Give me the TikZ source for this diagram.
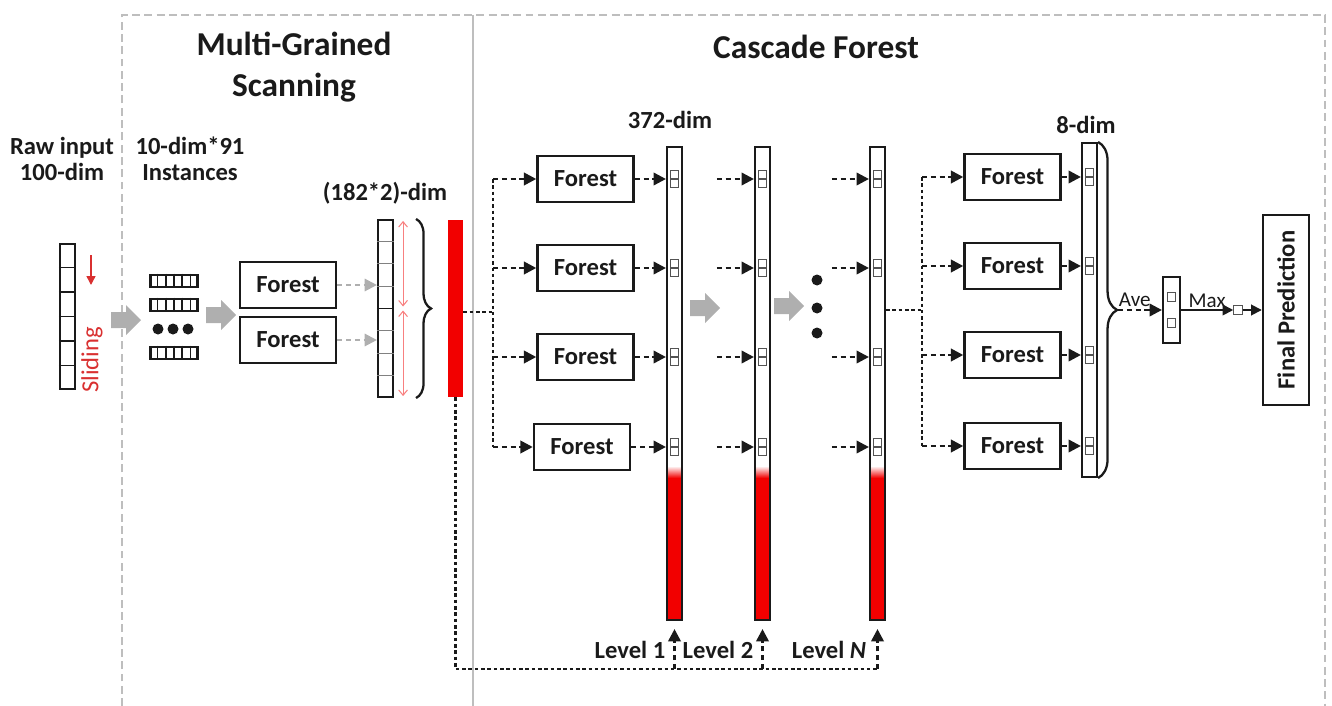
\documentclass[tikz,border=0pt]{standalone}
\usepackage{fontspec}
\setmainfont{Carlito}
\usetikzlibrary{positioning,arrows.meta,calc,decorations.pathreplacing}
\definecolor{forestInk}{HTML}{1A1A1A}
\definecolor{barRed}{HTML}{F20000}
\definecolor{slideRed}{HTML}{D93030}
\definecolor{frameGrey}{HTML}{BEBEBE}
\definecolor{blockGrey}{HTML}{AFAFAF}
\tikzset{
  forestbox/.style={draw=forestInk,line width=1.4pt,minimum width=1.92cm,minimum height=0.92cm,
    inner sep=0pt,text=forestInk,font=\bfseries\fontsize{14}{16}\selectfont},
  featcol/.style={draw=forestInk,line width=1.2pt,minimum width=0.3cm,inner sep=0pt},
  redtail/.style={path picture={
      \fill[barRed] ([yshift=2.84cm]path picture bounding box.south west) rectangle (path picture bounding box.south east);
      \shade[top color=white,bottom color=barRed] ([yshift=3.08cm]path picture bounding box.south west)
        rectangle ([yshift=2.84cm]path picture bounding box.south east);}},
  cell/.style={draw=forestInk!75,line width=0.6pt,fill=white,minimum size=0.17cm,inner sep=0pt},
  instbox/.style={draw=forestInk,line width=1.4pt,minimum width=0.94cm,minimum height=0.25cm,inner sep=0pt},
  blockarrow/.pic={\fill[blockGrey] (-15,-8) -- (0,-8) -- (0,-15) -- (15,0) -- (0,15) -- (0,8) -- (-15,8) -- cycle;},
  blackdot/.style={circle,fill=forestInk,minimum size=0.22cm,inner sep=0pt},
  dasharrow/.style={-{Triangle[length=7pt,width=7pt]},line width=1.45pt,dash pattern=on 3pt off 2pt,draw=forestInk},
  greyarrow/.style={-{Triangle[length=7pt,width=7pt]},line width=1.3pt,dash pattern=on 3pt off 2pt,draw=blockGrey},
  dashline/.style={line width=1.45pt,dash pattern=on 2pt off 1.6pt,draw=forestInk},
  solidarrow/.style={-{Triangle[length=6pt,width=6pt]},line width=1pt,draw=forestInk},
  spanarrow/.style={{Straight Barb[length=3pt,width=5pt]}-{Straight Barb[length=3pt,width=5pt]},
    line width=0.6pt,draw=barRed!50},
  lbl/.style={font=\bfseries\fontsize{14}{15}\selectfont,text=forestInk,inner sep=0pt,align=center},
  paneltitle/.style={font=\bfseries\fontsize{19}{23}\selectfont,text=forestInk,inner sep=0pt,align=center},
  framedash/.style={draw=frameGrey,line width=1.1pt,dash pattern=on 4.5pt off 2.5pt}
}
\begin{document}
\begin{tikzpicture}[x=0.02cm,y=-0.02cm]
    \useasboundingbox (0,0) rectangle (1332,706);
    \draw[framedash] (122,706) -- (122,15) -- (1325,15) -- (1325,706);
    \draw[frameGrey,line width=1.2pt] (473,15) -- (473,706);
    \node[paneltitle] (mgsTitle) at (294,67) {Multi-Grained\\Scanning};
    \node[paneltitle] (cfTitle) at (816,47) {Cascade Forest};

    % multi-grained scanning
    \node[lbl] (rawLbl) at (62,159) {Raw input\\100-dim};
    \node[featcol,minimum height=2.9cm] (rawCol) at (67.5,316.5) {};
    \foreach \k in {1,...,5}
      \draw[forestInk,line width=0.9pt] ($(rawCol.north west)!\k/6!(rawCol.south west)$) -- ($(rawCol.north east)!\k/6!(rawCol.south east)$);
    \coordinate (slideTop) at (91,255);
    \coordinate (slideTip) at (91,285);
    \draw[slideRed,line width=0.8pt,-{Triangle[length=5pt,width=5pt]}] (slideTop) -- (slideTip);
    \node[text=slideRed,font=\fontsize{14}{16}\selectfont,inner sep=0pt] (slideLbl) at (92,360) {\rotatebox{90}{Sliding}};
    \pic (scanArrow) at (126,320) {blockarrow};
    \node[lbl] (instLbl) at (190,159) {10-dim*91\\Instances};
    \foreach \nm/\yy in {instA/281,instB/305,instD/353}{
      \node[instbox] (\nm) at (174,\yy) {};
      \foreach \k in {1,...,5}
        \draw[forestInk,line width=0.9pt] ($(\nm.north west)!\k/6!(\nm.north east)$) -- ($(\nm.south west)!\k/6!(\nm.south east)$);
    }
    \foreach \xx/\nm in {158/instDotA,173/instDotB,188/instDotC}
      \node[blackdot] (\nm) at (\xx,329) {};
    \pic (forestArrow) at (221,315) {blockarrow};
    \node[forestbox] (mgsForestA) at (288,285) {Forest};
    \node[forestbox] (mgsForestB) at (288,340) {Forest};
    \node[lbl] (concatLbl) at (385,193) {(182*2)-dim};
    \node[featcol,minimum height=3.54cm] (concatCol) at (385.5,308.5) {};
    \foreach \k in {1,2,3,5,6,7}
      \draw[forestInk!55,line width=0.6pt] ($(concatCol.north west)!\k/8!(concatCol.south west)$) -- ($(concatCol.north east)!\k/8!(concatCol.south east)$);
    \draw[forestInk,line width=1pt] (concatCol.west) -- (concatCol.east);
    \draw[greyarrow] (mgsForestA.east) -- (concatCol.west |- mgsForestA);
    \draw[greyarrow] (mgsForestB.east) -- (concatCol.west |- mgsForestB);
    \draw[spanarrow] ([xshift=0.18cm,yshift=-0.04cm]concatCol.north east) -- ([xshift=0.18cm,yshift=0.04cm]concatCol.east);
    \draw[spanarrow] ([xshift=0.18cm,yshift=-0.04cm]concatCol.east) -- ([xshift=0.18cm,yshift=0.04cm]concatCol.south east);
    \draw[forestInk,line width=1.3pt,decorate,decoration={brace,amplitude=0.3cm}]
      ([xshift=0.44cm]concatCol.north east) -- ([xshift=0.44cm]concatCol.south east);
    \node[fill=barRed,minimum width=0.3cm,minimum height=3.54cm,inner sep=0pt] (redBar) at (455.5,308.5) {};

    % cascade forest
    \coordinate (rowA) at (0,179);
    \coordinate (rowB) at (0,268);
    \coordinate (rowC) at (0,357);
    \coordinate (rowD) at (0,447);
    \node[lbl] (levelDimLbl) at (670,120) {372-dim};
    \node[forestbox] (cfForestA) at (585.5,179) {Forest};
    \node[forestbox] (cfForestB) at (585.5,268) {Forest};
    \node[forestbox] (cfForestC) at (585.5,357) {Forest};
    \node[forestbox] (cfForestD) at (582,447) {Forest};
    \node[featcol,redtail,minimum height=9.46cm] (colOne) at (674.5,383.5) {};
    \node[featcol,redtail,minimum height=9.46cm] (colTwo) at (762.5,383.5) {};
    \node[featcol,redtail,minimum height=9.46cm] (colN) at (877.5,383.5) {};
    \foreach \c in {colOne,colTwo,colN}
      \foreach \r in {rowA,rowB,rowC,rowD}{
        \node[cell] (\c-\r-u) at ($(\c |- \r)+(0,-4.5)$) {};
        \node[cell] (\c-\r-d) at ($(\c |- \r)+(0,4.5)$) {};
      }
    \coordinate (branchL) at (493,312);
    \draw[dashline] (redBar.east |- branchL) -- (branchL);
    \draw[dashline] (branchL |- rowA) -- (branchL |- rowD);
    \foreach \f in {cfForestA,cfForestB,cfForestC,cfForestD}{
      \draw[dasharrow] (branchL |- \f) -- (\f.west);
      \draw[dasharrow] (\f.east) -- (colOne.west |- \f);
    }
    \foreach \r in {rowA,rowB,rowC,rowD}{
      \draw[dasharrow] ($(colTwo.west |- \r)+(-37,0)$) -- (colTwo.west |- \r);
      \draw[dasharrow] ($(colN.west |- \r)+(-37,0)$) -- (colN.west |- \r);
    }
    \pic (stepArrowA) at (705,308) {blockarrow};
    \pic (stepArrowB) at (789,306) {blockarrow};
    \foreach \yy/\nm in {280/moreDotA,308/moreDotB,333/moreDotC}
      \node[blackdot] (\nm) at (817,\yy) {};

    \coordinate (branchR) at (922,310);
    \node[forestbox] (rfForestA) at (1012.5,177) {Forest};
    \node[forestbox] (rfForestB) at (1012.5,266) {Forest};
    \node[forestbox] (rfForestC) at (1012.5,355) {Forest};
    \node[forestbox] (rfForestD) at (1012.5,446) {Forest};
    \node[lbl] (probLbl) at (1086,125) {8-dim};
    \node[featcol,minimum height=6.68cm] (probCol) at (1089.5,310) {};
    \draw[dashline] (colN.east |- branchR) -- (branchR);
    \draw[dashline] (branchR |- rfForestA) -- (branchR |- rfForestD);
    \foreach \f in {rfForestA,rfForestB,rfForestC,rfForestD}{
      \draw[dasharrow] (branchR |- \f) -- (\f.west);
      \draw[dasharrow] (\f.east) -- (probCol.west |- \f);
      \node[cell] (\f-u) at ($(probCol |- \f)+(0,-4.5)$) {};
      \node[cell] (\f-d) at ($(probCol |- \f)+(0,4.5)$) {};
    }
    \draw[forestInk,line width=1.3pt,decorate,decoration={brace,amplitude=0.38cm}]
      (probCol.north east) -- (probCol.south east);
    \node[featcol,minimum width=0.34cm,minimum height=1.32cm] (aveCol) at (1171.5,310) {};
    \node[cell] (aveCellA) at (1171.5,297) {};
    \node[cell] (aveCellB) at (1171.5,323) {};
    \draw[dasharrow] ($(probCol.east)+(20,0)$) -- node[pos=0.38,above=1pt,inner sep=0pt,text=forestInk,
      font=\fontsize{12}{14}\selectfont] (aveLbl) {Ave} (aveCol.west);
    \node[cell] (maxCell) at (1238,310) {};
    \draw[solidarrow] (aveCol.east) -- node[above=1pt,inner sep=0pt,text=forestInk,
      font=\fontsize{12}{14}\selectfont] (maxLbl) {Max} (maxCell.west);
    \node[forestbox,minimum width=0.92cm,minimum height=3.8cm] (finalBox) at (1286,310) {\rotatebox{90}{Final Prediction}};
    \draw[solidarrow] (maxCell.east) -- (finalBox.west |- maxCell);

    % feedback to every level
    \coordinate (feedBase) at (455.5,669);
    \draw[dashline] (redBar.south) -- (feedBase) -- (feedBase -| colN.south);
    \foreach \c in {colOne,colTwo,colN}
      \draw[dasharrow] (feedBase -| \c.south) -- ([yshift=-0.16cm]\c.south);
    \node[lbl] (levelOneLbl) at (630,650) {Level 1};
    \node[lbl] (levelTwoLbl) at (718,650) {Level 2};
    \node[lbl] (levelNLbl) at (829,650) {Level \textit{N}};
\end{tikzpicture}
\end{document}
